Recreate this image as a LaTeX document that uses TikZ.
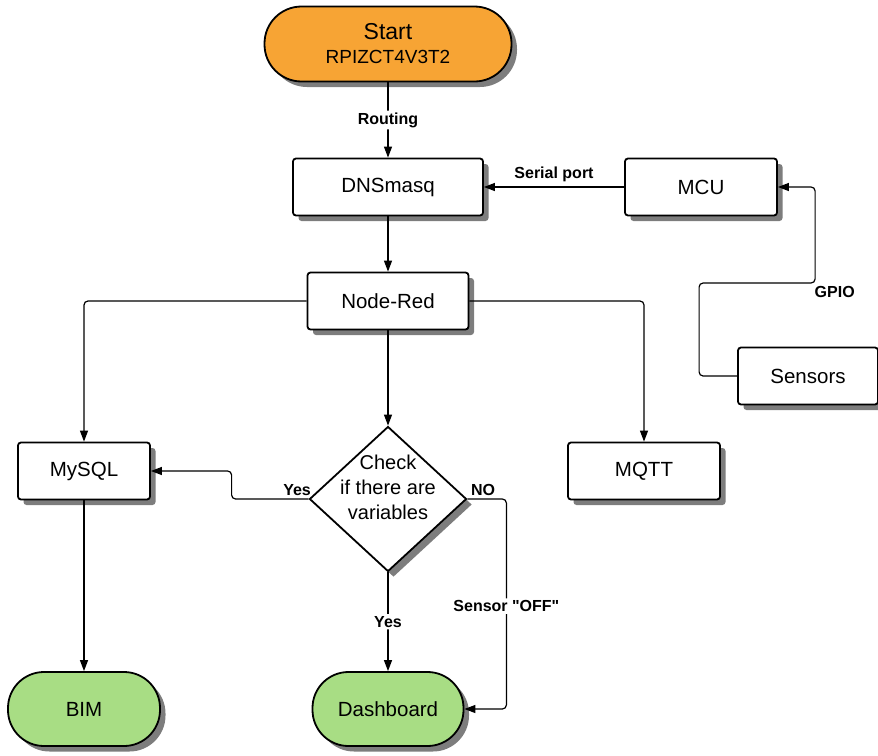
\documentclass[tikz,border=0pt]{standalone}
\usepackage{fontspec}
\setmainfont{Liberation Sans}
\newfontfamily\labelfont{Liberation Sans}
\usetikzlibrary{arrows.meta,shapes.geometric}
\definecolor{startorange}{RGB}{247,164,52}
\definecolor{endgreen}{RGB}{168,221,132}
\definecolor{shadowgray}{RGB}{125,125,125}

\begin{document}
\begin{tikzpicture}[x=1pt, y=1pt, font=\fontsize{20.5}{25}\selectfont,
      boxshadow/.style={preaction={fill=shadowgray, draw=none, transform canvas={shift={(5.5pt,-5.5pt)}}}},
      procbox/.style={rectangle, rounded corners=3pt, draw=black, line width=1.8pt, fill=white,
                      minimum height=57pt, inner sep=2pt, boxshadow},
      termbox/.style={procbox, rounded corners=36pt, minimum height=74pt, fill=endgreen},
      decision/.style={diamond, draw=black, line width=1.8pt, fill=white, inner sep=0pt,
                       minimum width=157pt, minimum height=145pt, boxshadow},
      checktext/.style={align=center, font=\fontsize{20}{25}\selectfont, yshift=12pt},
      flow/.style={line width=1.2pt, rounded corners=4pt, -{Triangle[length=11pt,width=8pt]}},
      lbl/.style={font=\labelfont\bfseries\fontsize{16}{18}\selectfont, inner sep=2pt}]
    \useasboundingbox (0,0) rectangle (878,-755);
    % nodes
    \node[termbox, fill=startorange, minimum width=247pt, minimum height=75pt, rounded corners=37pt, align=center]
      (start) at (388,-44) {{\fontsize{23}{25}\selectfont Start}\\[-1pt]{\fontsize{19}{22}\selectfont RPIZCT4V3T2}};
    \node[procbox, minimum width=190pt] (dns) at (388,-187) {DNSmasq};
    \node[procbox, minimum width=152pt] (mcu) at (701,-187) {MCU};
    \node[procbox, minimum width=161pt] (nodered) at (388,-301) {Node-Red};
    \node[procbox, minimum width=140pt] (sensors) at (808,-376) {Sensors};
    \node[procbox, minimum width=132pt] (mysql) at (84,-471) {MySQL};
    \node[procbox, minimum width=152pt] (mqtt) at (644,-471) {MQTT};
    \node[decision, label={[checktext]center:{Check\\if there are\\variables}}] (check) at (388,-499) {};
    \node[termbox, minimum width=152pt] (bim) at (84,-709) {BIM};
    \node[termbox, minimum width=151pt] (dash) at (388,-709) {Dashboard};
    % connectors
    \draw[flow] (start) -- node[lbl, fill=white] {Routing} (dns);
    \draw[flow] (mcu) -- node[lbl, above=3pt] {Serial port} (dns);
    \draw[flow] (dns) -- (nodered);
    \draw[flow] (nodered.west) -| (mysql.north);
    \draw[flow] (nodered.east) -| (mqtt.north);
    \draw[flow] (nodered) -- (check);
    \draw[flow] (mysql) -- (bim);
    \draw[flow] (check.west) -- node[lbl, pos=0.15, above=1pt] {Yes} ++(-77,0) |- (mysql.east);
    \draw[flow] (check.south) -- node[lbl, fill=white] {Yes} (dash.north);
    \draw[flow] (check.east) -- node[lbl, pos=0.4, above=1pt] {NO} ++(39,0)
      |- node[lbl, pos=0.255, fill=white] {Sensor "OFF"} (dash.east);
    \draw[flow] (sensors.west) -- ++(-38,0) -- ++(0,93)
      -- node[lbl, pos=1, anchor=north west, xshift=-3pt, yshift=-1pt] {GPIO} ++(116,0) |- (mcu.east);
  \end{tikzpicture}
\end{document}
